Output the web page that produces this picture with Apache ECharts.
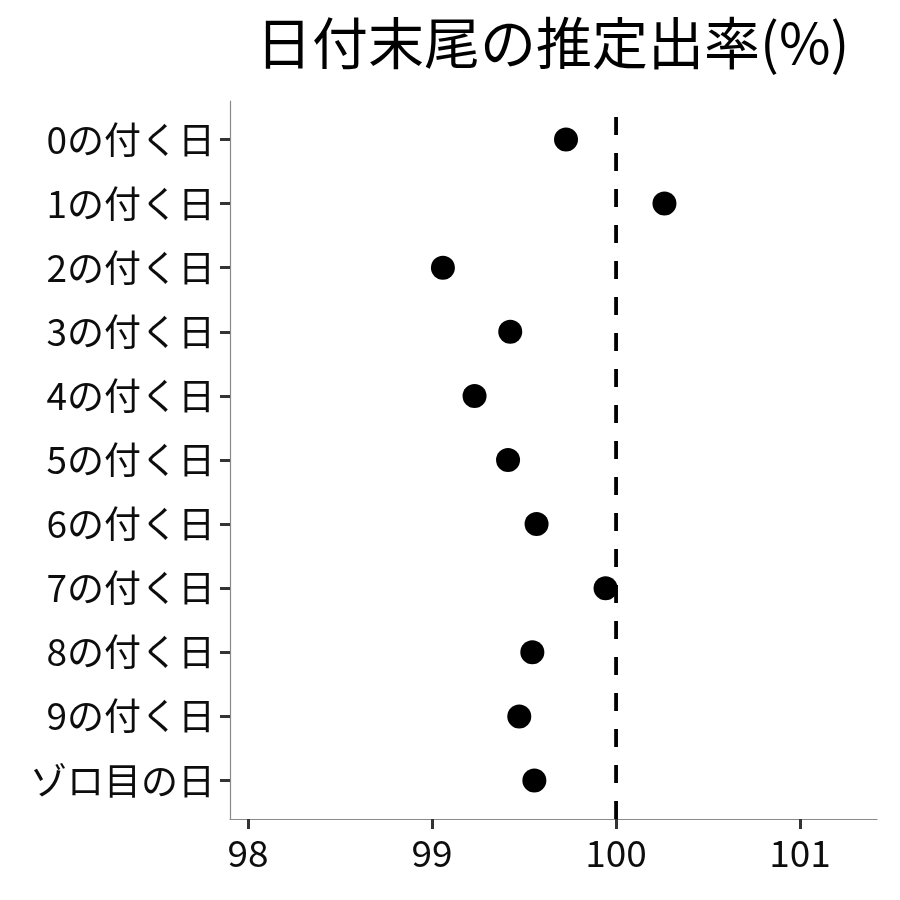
<!DOCTYPE html>
<html>
<head>
<meta charset="utf-8">
<script src="https://cdn.jsdelivr.net/npm/echarts@6/dist/echarts.min.js"></script>
<style>html,body{margin:0;padding:0;background:#fff}#c{width:900px;height:900px}</style>
</head>
<body>
<div id="c"></div>
<script>
const titleText = '日付末尾の推定出率(%)';
const categories = ['0の付く日','1の付く日','2の付く日','3の付く日','4の付く日','5の付く日','6の付く日','7の付く日','8の付く日','9の付く日','ゾロ目の日'];
const values = [99.728, 100.263, 99.059, 99.425, 99.231, 99.413, 99.568, 99.943, 99.545, 99.474, 99.556];
const xTicks = [98, 99, 100, 101];
const refValue = 100;

const FONT = '"Noto Sans CJK JP", "Noto Sans", sans-serif';
const chart = echarts.init(document.getElementById('c'), null, {renderer: 'canvas'});
const catIdx = categories.map((_, i) => i);
const option = {
  backgroundColor: '#ffffff',
  animation: false,
  graphic: [{
    type: 'text',
    left: 256,
    top: 15,
    style: {
      text: titleText,
      font: '56px ' + FONT,
      fill: '#000000',
      textAlign: 'left'
    }
  }],
  grid: {left: 230, right: 23, top: 101, bottom: 81, containLabel: false},
  xAxis: {
    type: 'value',
    min: 97.902,
    max: 101.418,
    axisLine: {show: true, onZero: false, lineStyle: {color: '#8a8a8a', width: 1.2}},
    axisTick: {show: true, customValues: xTicks, length: 10, lineStyle: {color: '#333333', width: 3}},
    axisLabel: {customValues: xTicks, margin: 15, color: '#0d0d0d', fontSize: 37, fontFamily: FONT},
    splitLine: {show: false}
  },
  yAxis: {
    type: 'value',
    inverse: true,
    min: -0.6,
    max: 10.6,
    axisLine: {show: true, onZero: false, lineStyle: {color: '#8a8a8a', width: 1.2}},
    axisTick: {show: true, customValues: catIdx, length: 10, lineStyle: {color: '#333333', width: 3}},
    axisLabel: {customValues: catIdx, margin: 15, color: '#0d0d0d', fontSize: 37, fontFamily: FONT,
      formatter: v => categories[Math.round(v)] || ''},
    splitLine: {show: false}
  },
  series: [
    {
      type: 'line',
      data: [[refValue, 10.6], [refValue, -0.6]],
      symbol: 'none',
      lineStyle: {color: '#000000', width: 3.8, type: [18, 18]},
      z: 1,
      silent: true
    },
    {
      type: 'scatter',
      data: values.map((v, i) => [v, i]),
      symbol: 'circle',
      symbolSize: 24,
      itemStyle: {color: '#000000', opacity: 1},
      z: 2
    }
  ]
};
chart.setOption(option);
</script>
</body>
</html>
